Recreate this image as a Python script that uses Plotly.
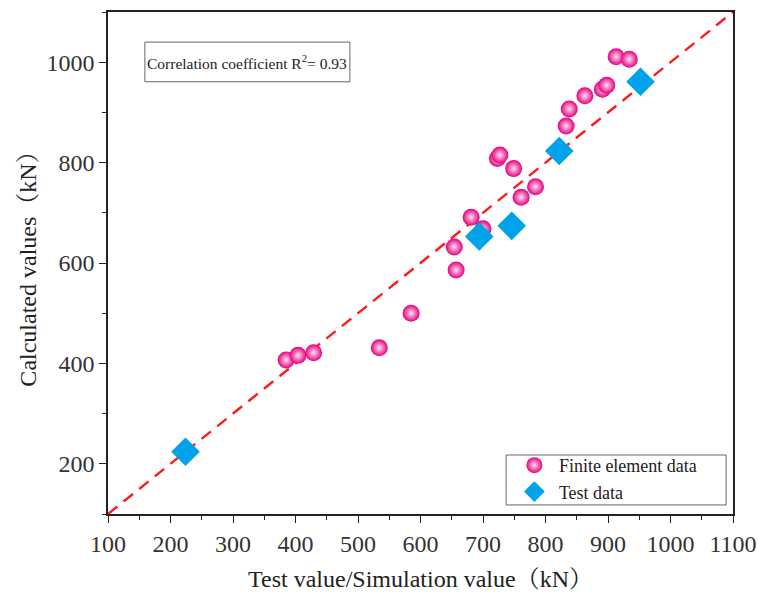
import plotly.graph_objects as go

# Finite element data
fe_x = [385, 404, 429, 534, 585, 654, 657, 681, 700, 723, 727, 749, 761, 784, 833, 838, 863, 891, 898, 913, 934]
fe_y = [407, 416, 421, 431, 500, 632, 586, 691, 668, 808, 815, 788, 731, 752, 873, 907, 933, 946, 954, 1011, 1006]

# Test data
test_x = [224, 694, 746, 822, 952]
test_y = [224, 653, 674, 823, 961]

# y = x reference line
ref_line = [100, 1100]

x_ticks = [100, 200, 300, 400, 500, 600, 700, 800, 900, 1000, 1100]
y_ticks = [200, 400, 600, 800, 1000]

FONT = "Times New Roman, Liberation Serif, Noto Serif CJK SC, Noto Sans CJK SC, serif"

fig = go.Figure()
fig.add_trace(go.Scatter(
    x=ref_line, y=ref_line, mode="lines",
    line=dict(color="#FF1A1A", width=2.4, dash="12px,8px"),
    showlegend=False, hoverinfo="skip"))
fig.add_trace(go.Scatter(
    x=fe_x, y=fe_y, mode="markers", name="Finite element data",
    marker=dict(symbol="circle", size=17, color="#E5007F",
                gradient=dict(type="radial", color="#FFE0F0"),
                line=dict(width=0))))
fig.add_trace(go.Scatter(
    x=test_x, y=test_y, mode="markers", name="Test data",
    marker=dict(symbol="diamond", size=22, color="#00A2EA",
                line=dict(width=0))))

axis_common = dict(
    showline=True, linecolor="#222", linewidth=1.5, mirror=True,
    ticks="outside", ticklen=7, tickwidth=1.3, tickcolor="#222",
    showgrid=False, zeroline=False, automargin=False,
    tickfont=dict(family=FONT, size=24, color="#333"),
)

fig.update_xaxes(
    range=[100, 1100], tickvals=x_ticks,
    minor=dict(dtick=50, tick0=100, ticks="outside", ticklen=4, tickcolor="#222", tickwidth=1.2, showgrid=False),
    title=dict(text="Test value/Simulation value（kN）", font=dict(family=FONT, size=24, color="#222"), standoff=15),
    **axis_common)
fig.update_yaxes(
    range=[100, 1100], tickvals=y_ticks,
    minor=dict(dtick=100, tick0=100, ticks="outside", ticklen=4, tickcolor="#222", tickwidth=1.2, showgrid=False),
    title=dict(text="Calculated values（kN）", font=dict(family=FONT, size=24, color="#222"), standoff=3),
    **axis_common)

# text box
fig.add_shape(type="rect", xref="paper", yref="paper",
              x0=0.059, x1=0.387, y0=0.861, y1=0.940,
              line=dict(color="#666", width=1), fillcolor="white", layer="above")
fig.add_annotation(
    xref="paper", yref="paper", x=0.223, y=0.9005, xanchor="center", yanchor="middle",
    text="Correlation coefficient R<sup>2</sup>= 0.93", showarrow=False,
    font=dict(family=FONT, size=15.5, color="#222"))

# legend frame
fig.add_shape(type="rect", xref="paper", yref="paper",
              x0=0.637, x1=0.989, y0=0.018, y1=0.1175,
              line=dict(color="#666", width=1), fillcolor="white", layer="above")

fig.update_layout(
    width=758, height=593,
    margin=dict(l=108, r=25, t=12, b=79),
    plot_bgcolor="white", paper_bgcolor="white",
    legend=dict(x=0.643, y=0.1335, xanchor="left", yanchor="top",
                borderwidth=0, bgcolor="rgba(0,0,0,0)",
                font=dict(family=FONT, size=18, color="#222"),
                itemsizing="trace", itemwidth=39, tracegroupgap=0),
)

fig.write_html("out.html", config={"displayModeBar": False},
               post_script="document.body.style.margin='0px';document.body.style.overflow='hidden';")
